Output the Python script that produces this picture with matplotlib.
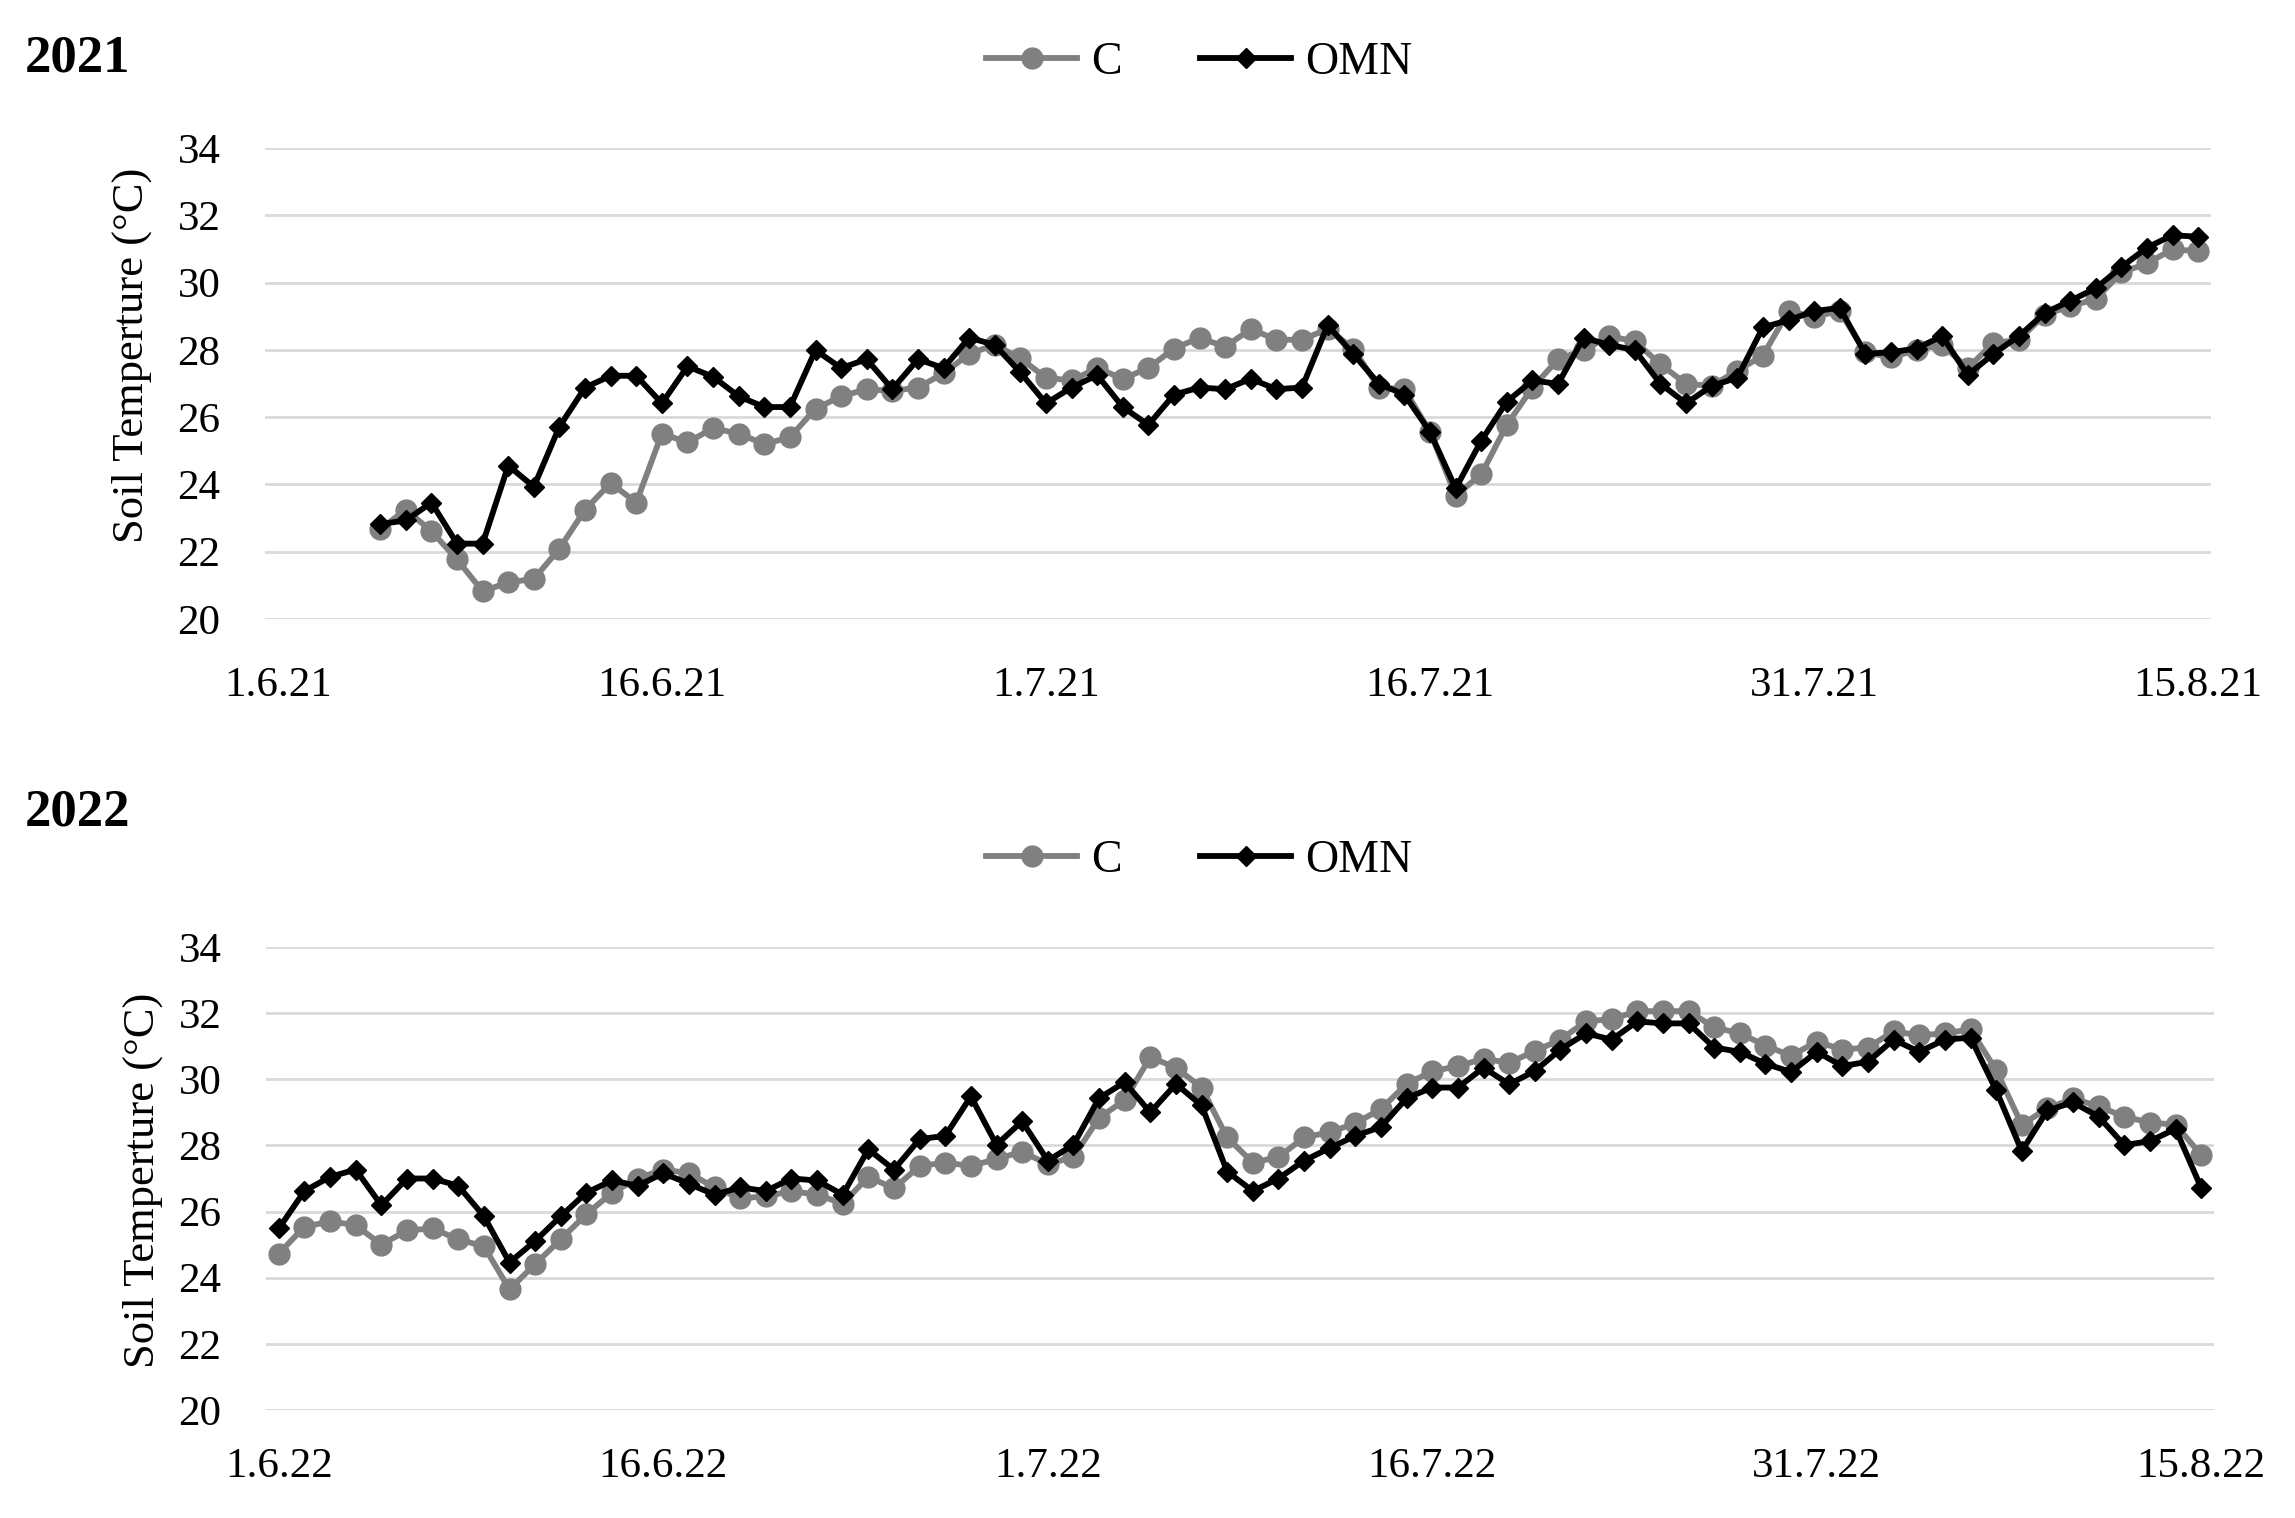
import matplotlib
matplotlib.use("Agg")
import matplotlib.pyplot as plt
import pandas as pd

plt.rcParams['font.family'] = ['Liberation Serif', 'DejaVu Serif']

# daily soil temperature readings
dates_2021 = pd.date_range('2021-06-05', '2021-08-15', freq='D')
c_2021 = [22.67, 23.25, 22.61, 21.77, 20.82, 21.09, 21.19, 22.09, 23.25, 24.04,
          23.46, 25.51, 25.25, 25.67, 25.51, 25.20, 25.40, 26.25, 26.62, 26.83,
          26.78, 26.88, 27.30, 27.88, 28.15, 27.75, 27.17, 27.09, 27.46, 27.14,
          27.46, 28.04, 28.36, 28.09, 28.62, 28.30, 28.30, 28.62, 28.04, 26.88,
          26.83, 25.56, 23.67, 24.30, 25.77, 26.88, 27.72, 27.99, 28.41, 28.25,
          27.57, 26.99, 26.93, 27.38, 27.83, 29.15, 28.99, 29.15, 27.93, 27.78,
          27.99, 28.15, 27.46, 28.20, 28.30, 29.04, 29.30, 29.51, 30.30, 30.57,
          30.99, 30.93]
omn_2021 = [22.82, 22.93, 23.46, 22.24, 22.24, 24.56, 23.93, 25.72, 26.88, 27.23,
            27.23, 26.41, 27.51, 27.20, 26.62, 26.30, 26.30, 27.99, 27.46, 27.72,
            26.83, 27.72, 27.46, 28.36, 28.15, 27.33, 26.41, 26.88, 27.25, 26.30,
            25.77, 26.67, 26.88, 26.83, 27.14, 26.83, 26.88, 28.73, 27.88, 26.99,
            26.67, 25.56, 23.88, 25.30, 26.46, 27.09, 26.99, 28.36, 28.15, 27.99,
            26.99, 26.41, 26.93, 27.17, 28.67, 28.88, 29.15, 29.25, 27.88, 27.93,
            28.04, 28.41, 27.25, 27.88, 28.41, 29.09, 29.46, 29.83, 30.46, 31.04,
            31.41, 31.36]

dates_2022 = pd.date_range('2022-06-01', '2022-08-15', freq='D')
c_2022 = [24.73, 25.54, 25.70, 25.59, 25.00, 25.43, 25.49, 25.16, 24.95, 23.65,
          24.41, 25.16, 25.92, 26.57, 27.00, 27.27, 27.16, 26.73, 26.40, 26.46,
          26.62, 26.51, 26.24, 27.05, 26.70, 27.38, 27.48, 27.38, 27.59, 27.81,
          27.43, 27.65, 28.83, 29.37, 30.67, 30.35, 29.75, 28.24, 27.48, 27.65,
          28.24, 28.40, 28.67, 29.10, 29.86, 30.24, 30.40, 30.62, 30.50, 30.85,
          31.20, 31.75, 31.82, 32.06, 32.06, 32.06, 31.57, 31.39, 31.02, 30.71,
          31.14, 30.90, 30.96, 31.45, 31.33, 31.39, 31.51, 30.28, 28.63, 29.12,
          29.42, 29.18, 28.87, 28.69, 28.63, 27.71]
omn_2022 = [25.49, 26.62, 27.05, 27.27, 26.19, 27.00, 27.00, 26.78, 25.86, 24.46,
            25.11, 25.86, 26.57, 26.94, 26.78, 27.16, 26.84, 26.51, 26.73, 26.62,
            27.00, 26.94, 26.51, 27.88, 27.27, 28.19, 28.29, 29.48, 28.02, 28.73,
            27.54, 28.02, 29.43, 29.91, 29.00, 29.86, 29.21, 27.21, 26.62, 27.00,
            27.54, 27.92, 28.29, 28.56, 29.43, 29.75, 29.75, 30.35, 29.85, 30.25,
            30.90, 31.39, 31.20, 31.75, 31.69, 31.69, 30.96, 30.83, 30.47, 30.22,
            30.83, 30.40, 30.53, 31.20, 30.83, 31.20, 31.26, 29.67, 27.83, 29.06,
            29.30, 28.87, 28.01, 28.13, 28.50, 26.72]

tick_dates_2021 = ['2021-06-01', '2021-06-16', '2021-07-01', '2021-07-16', '2021-07-31', '2021-08-15']
tick_labels_2021 = ['1.6.21', '16.6.21', '1.7.21', '16.7.21', '31.7.21', '15.8.21']
tick_dates_2022 = ['2022-06-01', '2022-06-16', '2022-07-01', '2022-07-16', '2022-07-31', '2022-08-15']
tick_labels_2022 = ['1.6.22', '16.6.22', '1.7.22', '16.7.22', '31.7.22', '15.8.22']

W, H = 2295, 1518
fig = plt.figure(figsize=(W / 100, H / 100), dpi=100)


def panel(rect, dates, c, omn, tdates, tlabels, year, year_y, leg_y, lab_xy, xpad):
    ax = fig.add_axes(rect)
    ax.plot(dates, c, color='#808080', lw=4.2, marker='o', ms=15, label='C', zorder=3)
    ax.plot(dates, omn, color='black', lw=4.2, marker='D', ms=10, label='OMN', zorder=4)
    ax.set_ylim(20, 34)
    ax.set_yticks(range(20, 35, 2))
    half = pd.Timedelta(hours=12)
    ax.set_xlim(pd.Timestamp(tdates[0]) - half, pd.Timestamp(tdates[-1]) + half)
    ax.set_xticks([pd.Timestamp(t) for t in tdates])
    ax.set_xticklabels(tlabels)
    ax.grid(axis='y', color='#d9d9d9', lw=2.0)
    ax.set_axisbelow(True)
    for s in ax.spines.values():
        s.set_visible(False)
    ax.tick_params(length=0, labelsize=31)
    ax.tick_params(axis='y', pad=32)
    ax.tick_params(axis='x', pad=xpad)
    ax.set_ylabel('Soil Temperture (°C)', fontsize=32)
    ax.yaxis.set_label_coords(*lab_xy)
    fig.text(25 / W, 1 - year_y / H, year, fontsize=38, fontweight='bold', va='center')
    ax.legend(loc='center', bbox_to_anchor=(1199 / W, 1 - leg_y / H),
              bbox_transform=fig.transFigure, ncol=2, frameon=False,
              fontsize=33, handlelength=2.0, handletextpad=0.3, columnspacing=1.7)
    return ax


panel([265 / W, 1 - 619 / H, 1946 / W, 471 / H], dates_2021, c_2021, omn_2021,
      tick_dates_2021, tick_labels_2021, '2021', 58, 63, (-0.058, 0.56), 34)
panel([266 / W, 1 - 1410 / H, 1948 / W, 463 / H], dates_2022, c_2022, omn_2022,
      tick_dates_2022, tick_labels_2022, '2022', 812, 861, (-0.053, 0.497), 27)

fig.savefig('out.png', dpi=100)
